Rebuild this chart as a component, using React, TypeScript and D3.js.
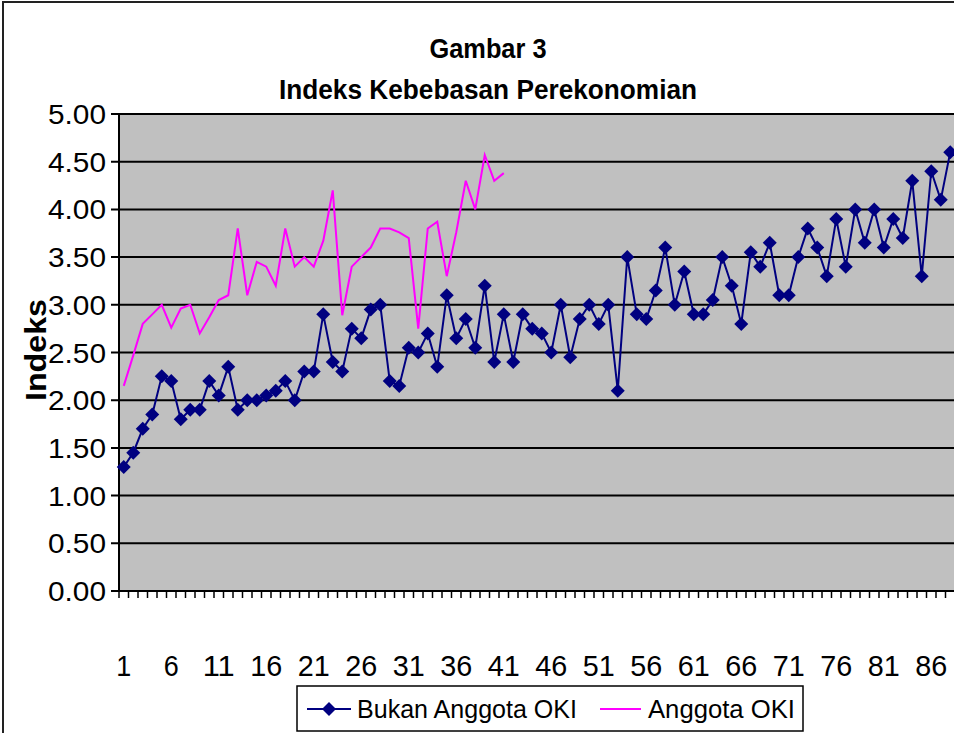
import * as d3 from 'd3';

// Bukan Anggota OKI (non-member countries), 88 categories
const bukanOki = [
  1.30, 1.45, 1.70, 1.85, 2.25, 2.20, 1.80, 1.90, 1.90, 2.20,
  2.05, 2.35, 1.90, 2.00, 2.00, 2.05, 2.10, 2.20, 2.00, 2.30,
  2.30, 2.90, 2.40, 2.30, 2.75, 2.65, 2.95, 3.00, 2.20, 2.15,
  2.55, 2.50, 2.70, 2.35, 3.10, 2.65, 2.85, 2.55, 3.20, 2.40,
  2.90, 2.40, 2.90, 2.75, 2.70, 2.50, 3.00, 2.45, 2.85, 3.00,
  2.80, 3.00, 2.10, 3.50, 2.90, 2.85, 3.15, 3.60, 3.00, 3.35,
  2.90, 2.90, 3.05, 3.50, 3.20, 2.80, 3.55, 3.40, 3.65, 3.10,
  3.10, 3.50, 3.80, 3.60, 3.30, 3.90, 3.40, 4.00, 3.65, 4.00,
  3.60, 3.90, 3.70, 4.30, 3.30, 4.40, 4.10, 4.60,
];

// Anggota OKI (member countries), 41 categories
const anggotaOki = [
  2.15, 2.47, 2.80, 2.90, 3.00, 2.76, 2.96, 3.00, 2.70, 2.87,
  3.05, 3.10, 3.80, 3.10, 3.45, 3.40, 3.20, 3.80, 3.40, 3.50,
  3.40, 3.67, 4.20, 2.89, 3.40, 3.50, 3.60, 3.80, 3.80, 3.76,
  3.70, 2.75, 3.80, 3.87, 3.30, 3.76, 4.30, 4.00, 4.57, 4.30,
  4.38,
];

const yTicks = [0, 0.5, 1, 1.5, 2, 2.5, 3, 3.5, 4, 4.5, 5];
const xLabels = [1, 6, 11, 16, 21, 26, 31, 36, 41, 46, 51, 56, 61, 66, 71, 76, 81, 86];
const nCats = 88;

const titleLines = ['Gambar 3', 'Indeks Kebebasan Perekonomian'];
const yTitle = 'Indeks';
const legendNames = ['Bukan Anggota OKI', 'Anggota OKI'];

const width = 954;
const height = 733;
const font = 'Arial, "Liberation Sans", sans-serif';
const navy = '#000080';
const magenta = '#FF00FF';

export default function App() {
  const plotLeft = 119;
  const plotTop = 114;
  const plotBottom = 591;
  const step = 9.5;

  const x = d3.scaleLinear().domain([0.5, nCats + 0.5]).range([plotLeft, plotLeft + nCats * step]);
  const y = d3.scaleLinear().domain([0, 5]).range([plotBottom, plotTop]);

  const line = d3.line<number>()
    .x((_, i) => x(i + 1))
    .y(d => y(d));

  const diamond = (cx: number, cy: number, r = 7) =>
    `M${cx},${cy - r}L${cx + r},${cy}L${cx},${cy + r}L${cx - r},${cy}Z`;

  const tickBounds = d3.range(0, nCats + 1).map(i => i + 0.5);
  const titleWidths = [117, 418]; // measured from reference

  return (
    <svg width={width} height={height} style={{ position: 'absolute', left: 0, top: 0, background: '#fff' }}>
      {/* chart frame */}
      <rect x={3} y={2} width={width + 10} height={height + 10} fill="#fff" stroke="#222" strokeWidth={2} />

      {/* title */}
      {titleLines.map((t, i) => (
        <text key={t} x={488} y={58 + i * 41} textAnchor="middle" fontFamily={font}
          fontWeight="bold" fontSize={27} textLength={titleWidths[i]} lengthAdjust="spacingAndGlyphs">{t}</text>
      ))}

      {/* plot area */}
      <rect x={plotLeft} y={plotTop} width={x.range()[1] - plotLeft} height={plotBottom - plotTop} fill="#C0C0C0" />

      {/* gridlines + y ticks */}
      {yTicks.map(t => (
        <g key={t}>
          <line x1={plotLeft - 8} x2={x.range()[1]} y1={y(t)} y2={y(t)} stroke="#000" strokeWidth={2} />
          <text x={106} y={y(t) + 10} textAnchor="end" fontFamily={font} fontSize={28}
            textLength={58} lengthAdjust="spacingAndGlyphs">{t.toFixed(2)}</text>
        </g>
      ))}

      {/* y axis */}
      <line x1={plotLeft} x2={plotLeft} y1={plotTop} y2={plotBottom + 1} stroke="#000" strokeWidth={2} />

      {/* x ticks */}
      {tickBounds.map(b => (
        <line key={b} x1={x(b)} x2={x(b)} y1={plotBottom} y2={plotBottom + 7} stroke="#000" strokeWidth={1.5} />
      ))}
      {xLabels.map(l => (
        <text key={l} x={x(l)} y={676} textAnchor="middle" fontFamily={font} fontSize={29}
          textLength={l < 10 ? 15 : 32} lengthAdjust="spacingAndGlyphs">{l}</text>
      ))}

      {/* y title */}
      <text transform={`translate(46,350) rotate(-90)`} textAnchor="middle" fontFamily={font}
        fontWeight="bold" fontSize={29} textLength={102} lengthAdjust="spacingAndGlyphs">{yTitle}</text>

      {/* series */}
      <path d={line(anggotaOki) || ''} fill="none" stroke={magenta} strokeWidth={2} />
      <path d={line(bukanOki) || ''} fill="none" stroke={navy} strokeWidth={2} />
      {bukanOki.map((v, i) => (
        <path key={i} d={diamond(x(i + 1), y(v))} fill={navy} />
      ))}

      {/* legend */}
      <rect x={297} y={686} width={506} height={45} fill="#fff" stroke="#000" strokeWidth={1.5} />
      <line x1={307} x2={351} y1={709} y2={709} stroke={navy} strokeWidth={2} />
      <path d={diamond(329, 709)} fill={navy} />
      <text x={357} y={718} fontFamily={font} fontSize={26} textLength={220} lengthAdjust="spacingAndGlyphs">{legendNames[0]}</text>
      <line x1={600} x2={641} y1={709} y2={709} stroke={magenta} strokeWidth={2} />
      <text x={648} y={718} fontFamily={font} fontSize={26} textLength={147} lengthAdjust="spacingAndGlyphs">{legendNames[1]}</text>
    </svg>
  );
}
